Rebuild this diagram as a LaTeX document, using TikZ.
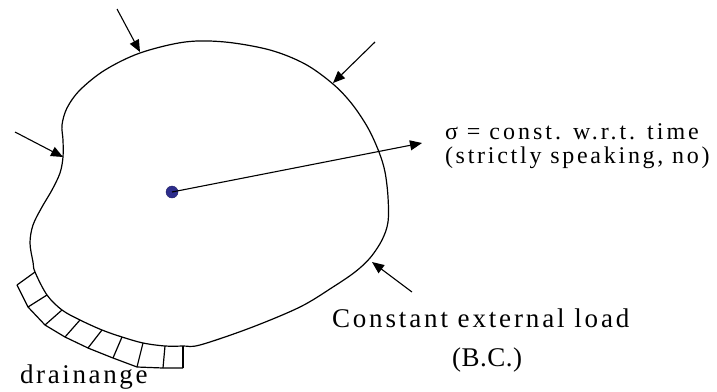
\documentclass[tikz,border=0pt]{standalone}
\usepackage{fontspec}
\setmainfont{Liberation Serif}
\newfontfamily\fsigA[LetterSpace=12.5]{Liberation Serif}
\newfontfamily\fsigB[LetterSpace=11.4]{Liberation Serif}
\newfontfamily\fload[LetterSpace=10.6]{Liberation Serif}
\newfontfamily\fbc[LetterSpace=2]{Liberation Serif}
\newfontfamily\fdrain[LetterSpace=9.8]{Liberation Serif}
\usetikzlibrary{arrows.meta}
\definecolor{dotblue}{RGB}{45,45,140}
\tikzset{
  outline/.style={line width=1.2pt, line join=round},
  loadarrow/.style={line width=1.1pt, -{Triangle[length=12pt,width=10pt]}},
  lbl/.style={anchor=base west, inner sep=0pt, outer sep=0pt},
}
\begin{document}
\begin{tikzpicture}[x=1pt,y=-1pt]
\useasboundingbox (0,0) rectangle (717,391);
% body outline
\draw[outline] plot[smooth cycle, tension=0.55] coordinates {
 (200,345) (250,328) (300,307) (333,287) (355,272) (370,258) (382,240)
 (388,222) (388,197) (385,172) (379,152) (368,128) (352,104) (333,84)
 (305,64) (270,50) (225,42) (185,42) (140,53) (105,70) (80,90) (67,108)
 (62,125) (63,140) (63,157) (60,173) (52,190) (42,207) (33,225) (30,243)
 (33,262) (35,272) (47,295) (62,310) (80,320) (102,330) (122,337)
 (143,343) (165,346) (183,346)};
% drainage blocks
\coordinate (I0) at (35,272);  \coordinate (O0) at (17,285);
\coordinate (I1) at (47,295);  \coordinate (O1) at (28,307);
\coordinate (I2) at (62,310);  \coordinate (O2) at (45,325);
\coordinate (I3) at (80,320);  \coordinate (O3) at (65,337);
\coordinate (I4) at (102,330); \coordinate (O4) at (88,348);
\coordinate (I5) at (122,337); \coordinate (O5) at (113,358);
\coordinate (I6) at (143,343); \coordinate (O6) at (137,367);
\coordinate (I7) at (165,346); \coordinate (O7) at (163,368);
\coordinate (I8) at (183,346); \coordinate (O8) at (183,368);
\draw[outline] (O0) -- (O1) -- (O2) -- (O3) -- (O4) -- (O5) -- (O6) -- (O7) -- (O8);
\foreach \k in {0,...,8} { \draw[outline] (I\k) -- (O\k); }
% load arrows
\coordinate (t1) at (117,9);   \coordinate (h1) at (140,52);
\coordinate (t2) at (375,42);  \coordinate (h2) at (333,83);
\coordinate (t3) at (15,132);  \coordinate (h3) at (63,157);
\coordinate (t4) at (412,292); \coordinate (h4) at (372,262);
\draw[loadarrow] (t1) -- (h1);
\draw[loadarrow] (t2) -- (h2);
\draw[loadarrow] (t3) -- (h3);
\draw[loadarrow] (t4) -- (h4);
% centre point and stress arrow
\node[circle, fill=dotblue, draw=dotblue!70!black, minimum size=12pt, inner sep=0pt] (pt) at (172,192) {};
\coordinate (sig) at (422,143);
\draw[loadarrow] (pt.center) -- (sig);
% labels
\node[lbl] (s1) at (445,139) {\fontsize{24}{28}\fsigA σ = const. w.r.t. time};
\node[lbl] (s2) at (445,163) {\fontsize{24}{28}\fsigB (strictly speaking, no)};
\node[lbl] (l1) at (332,327) {\fontsize{27}{30}\fload Constant external load};
\node[lbl] (l2) at (452,366) {\fontsize{27}{30}\fbc (B.C.)};
\node[lbl] (dr) at (20,383) {\fontsize{27}{30}\fdrain drainange};
\end{tikzpicture}
\end{document}
